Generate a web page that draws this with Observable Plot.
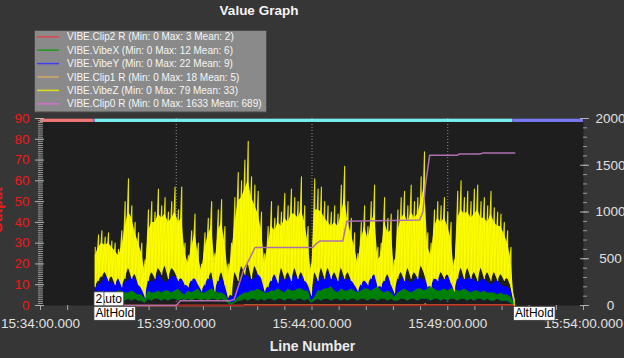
<!DOCTYPE html>
<html><head><meta charset="utf-8">
<script src="https://cdn.jsdelivr.net/npm/d3@7"></script>
<script src="https://cdn.jsdelivr.net/npm/@observablehq/plot@0.6"></script>
<style>
html,body{margin:0;padding:0;background:#363636;}
#chart{width:624px;height:358px;overflow:hidden;}
</style></head><body><div id="chart"></div>
<script>
// ---- legend / series info ----
const seriesNames = ["VIBE.Clip2 R","VIBE.VibeX","VIBE.VibeY","VIBE.Clip1 R","VIBE.VibeZ","VIBE.Clip0 R"];
const seriesMin = [0,0,0,0,0,0];
const seriesMax = [3,12,22,18,79,1633];
const seriesMean = [2,6,9,5,33,689];

// ---- vibration samples (regular log grid) ----
const vibeStart = "15:36:01";
const vibeStep = 7.35; // seconds
// VibeZ: spike tops, dense-core top, core bottom
const vibeZHi = [28,34,36,33,35,31,30,27,36,50, 61,48,40,35,30,22,46,50,45,56, 48,52,45,50,57,46,57,30,24,36,
 44,30,20,35,42,50,25,46,51,38, 20,30,52,64,60,70,79,62,58,55, 45,25,38,50,42,48,45,54,48,56,
 52,50,62,48,38,20,61,56,57,50, 48,45,48,44,58,67,50,42,35,25, 40,48,38,50,58,28,30,52,42,44,
 22,46,52,55,48,58,50,52,62,74, 35,30,46,50,48,52,45,40,22,55, 60,52,55,50,56,58,50,52,48,55,
 47,45,44,40,36,28,3];
const vibeZCore = [24,28,30,29,30,28,26,24,28,38, 45,42,35,30,25,16,36,40,40,44, 42,44,40,42,45,40,42,25,20,28,
 35,24,16,28,34,38,20,36,40,30, 15,24,40,50,52,56,60,52,48,44, 36,20,30,38,36,40,38,42,40,44,
 44,42,46,40,30,15,46,46,45,42, 40,38,40,38,44,52,40,34,28,20, 32,38,32,40,44,22,24,40,35,36,
 16,36,42,44,40,45,42,44,50,58, 28,24,38,42,40,42,38,32,16,42, 46,44,45,42,44,46,42,42,40,44,
 40,38,38,34,30,22,2];
const vibeZLo = [9,12,14,16,12,14,10,13,9,13, 18,13,15,10,8,4,12,16,13,18, 15,19,13,18,16,12,13,10,9,12,
 13,10,7,10,13,16,7,12,16,10, 4,5,16,12,19,15,20,13,19,15, 13,7,9,12,15,11,18,13,16,12,
 18,13,16,12,10,5,16,12,18,13, 18,13,16,12,18,13,16,12,10,7, 10,12,10,13,15,9,9,12,15,10,
 6,13,16,12,18,13,16,13,19,15, 9,9,13,12,16,13,15,11,7,13, 18,13,18,13,16,12,18,13,16,12,
 16,12,15,12,13,9,0];
const vibeYHi = [8,10,11,14,13,10,12,15,14,11, 12,14,13,10,11,7,13,11,12,15, 13,11,12,14,14,12,13,11,12,15,
 14,12,13,16,14,12,15,13,13,11, 8,3,6,10,12,15,14,12,13,16, 14,12,12,15,15,13,14,12,13,16,
 14,13,15,12,13,4,10,14,14,12, 15,17,13,12,14,13,12,14,13,11, 14,12,13,16,15,13,14,12,14,11,
 6,11,13,14,12,11,12,14,13,12, 14,13,15,18,13,12,14,15,15,13, 14,12,13,14,12,11,12,13,11,10,
 11,12,10,9,9,7,2];
const vibeXHi = [3,4,5,6,6,5,6,7,7,6, 6,7,6,5,5,3,7,6,6,7, 6,7,7,6,7,8,6,5,7,6,
 7,8,6,6,7,8,7,6,6,5, 3,1,2,4,5,6,6,7,7,8, 7,6,6,7,7,8,7,6,8,7,
 7,8,8,7,7,2,4,7,7,8, 8,9,7,6,8,7,7,8,7,6, 7,8,8,7,8,9,7,6,7,6,
 4,6,7,8,7,6,7,8,8,7, 8,9,8,7,7,8,7,8,8,7, 7,8,7,6,7,7,6,7,6,6,
 6,5,6,5,5,4,1];
const vibeXLo = [1,2,2,3,2,3,2,3,3,2, 3,2,3,2,2,1,3,2,3,3, 2,3,2,3,3,2,3,2,3,2,
 3,3,2,3,2,3,3,2,3,2, 1,0,1,2,2,3,2,3,3,2, 3,2,3,3,2,3,3,2,3,3,
 2,3,3,2,3,1,2,3,2,3, 3,2,3,3,2,3,2,3,3,2, 3,3,2,3,3,2,3,3,2,3,
 2,2,3,3,2,3,3,2,3,3, 3,2,3,3,2,3,2,3,3,2, 3,3,2,3,2,3,3,2,3,2,
 2,3,2,2,2,1,0];

// ---- clipping counters (right axis) ----
const clip0Times = ["15:36:01","15:39:00","15:39:09","15:40:59","15:41:08","15:41:17","15:41:28","15:41:43","15:41:54",
 "15:44:02","15:44:09","15:44:18","15:45:08","15:45:17","15:47:58","15:48:05","15:48:11","15:48:20",
 "15:49:20","15:49:26","15:50:11","15:50:17","15:51:28"];
const clip0Values = [0,0,50,50,65,200,370,510,620, 620,660,690,690,900,915,1000,1300,1606, 1606,1620,1620,1630,1630];
const clip1Times = ["15:36:01","15:41:30","15:41:31","15:48:09","15:48:10","15:48:12","15:51:28"];
const clip1Values = [0,0,5,5,18,5,5];
const clip2Times = ["15:36:01","15:48:00","15:48:01","15:51:28"];
const clip2Values = [0,0,3,3];

// ---- flight modes ----
const modeStart = ["15:34:00","15:35:57","15:36:01","15:51:24"];
const modeEnd = ["15:35:57","15:36:01","15:51:24","15:54:00"];
const modeName = ["Stabilize","AltHold","Auto","AltHold"];
const upperLabelText = ["Auto","2"];
const upperLabelTime = ["15:36:01","15:35:57"];
const lowerLabelText = ["AltHold","AltHold"];
const lowerLabelTime = ["15:35:57","15:51:24"];

// ---- axes ----
const xDomain = ["15:34:00","15:54:00"];
const xLabelTimes = ["15:34:00","15:39:00","15:44:00","15:49:00","15:54:00"];
const gridTimes = ["15:39:00","15:44:00","15:49:00"];
const leftTicks = [0,10,20,30,40,50,60,70,80,90];
const rightTicks = [0,500,1000,1500,2000];

// ---- build ----
const tm = s => { const [h,m,x] = s.split(":").map(Number); return new Date(Date.UTC(2020,0,1,h,m,x)); };
const R = 90 / 2000; // right-axis units -> left-axis units
const t0 = tm(vibeStart).getTime();
const vibe = vibeZHi.map((_, i) => ({t: new Date(t0 + i * vibeStep * 1000), zHi: vibeZHi[i], zCore: vibeZCore[i], zLo: vibeZLo[i], yHi: vibeYHi[i], xHi: vibeXHi[i], xLo: vibeXLo[i]}));
const zigZ = vibe.flatMap(d => [{t: d.t, v: d.zHi}, {t: d.t, v: d.zLo}]);
const toSeries = (ts, vs) => ts.map((t, i) => ({t: tm(t), v: vs[i]}));
const clip0 = toSeries(clip0Times, clip0Values);
const clip1 = toSeries(clip1Times, clip1Values);
const clip2 = toSeries(clip2Times, clip2Values);
const modeColor = {Stabilize: "#f07878", AltHold: "#7878f0", Auto: "#78f0f0"};
const modes = modeName.map((m, i) => ({t1: tm(modeStart[i]), t2: tm(modeEnd[i]), m}));
const upper = upperLabelText.map((s, i) => ({t: tm(upperLabelTime[i]), s}));
const lower = lowerLabelText.map((s, i) => ({t: tm(lowerLabelTime[i]), s}));
const minuteTicks = d3.utcMinute.range(tm(xDomain[0]), new Date(tm(xDomain[1]).getTime() + 1));
const colors = ["#e04848", "#1f9a1f", "#3c3cf0", "#d2a862", "#dede20", "#d070d0"];

const font = "'Liberation Sans', Arial, sans-serif";
const plot = Plot.plot({
  width: 624, height: 358,
  marginTop: 118, marginBottom: 53, marginLeft: 40, marginRight: 41,
  style: {background: "#363636", color: "#d8d8d8", fontFamily: font, fontSize: "13.5px", overflow: "visible"},
  x: {type: "utc", domain: xDomain.map(tm), axis: null},
  y: {domain: [0, 90], axis: null},
  marks: [
    Plot.frame({fill: "#1e1e1e", stroke: null}),
    Plot.ruleX(gridTimes.map(tm), {stroke: "#8c8c8c", strokeDasharray: "1,2"}),
    Plot.rect(modes, {x1: "t1", x2: "t2", y1: () => 88.1, y2: () => 89.7, fill: d => modeColor[d.m]}),
    // left axis
    Plot.axisY(d3.range(0, 91, 1), {anchor: "left", tickSize: 5, dx: 3, stroke: "#9a9a9a", tickFormat: () => ""}),
    Plot.axisY(leftTicks, {anchor: "left", tickSize: 9, dx: 4, stroke: "#b0b0b0", tickFormat: () => ""}),
    Plot.axisY(leftTicks, {anchor: "left", tickSize: 0, tickPadding: 11, fill: "#f01818", fontSize: 13.5}),
    // right axis
    Plot.axisY(d3.range(0, 2001, 100).map(v => v * R), {anchor: "right", tickSize: 4, dx: -1, stroke: "#9a9a9a", tickFormat: () => ""}),
    Plot.axisY(rightTicks.map(v => v * R), {anchor: "right", tickSize: 9, dx: -4, stroke: "#b0b0b0", tickFormat: () => ""}),
    Plot.axisY(rightTicks.map(v => v * R), {anchor: "right", tickSize: 0, tickPadding: 3, dx: 24, textAnchor: "middle", fill: "#e0e0e0", fontSize: 13.5, tickFormat: d => String(Math.round(d / R))}),
    // bottom axis
    Plot.axisX(minuteTicks, {tickSize: 5, stroke: "#a8a8a8", tickFormat: () => ""}),
    Plot.axisX(xLabelTimes.map(tm), {tickSize: 0, tickPadding: 13, fill: "#e2e2e2", fontSize: 13.5, tickFormat: d3.utcFormat("%H:%M:%S.%L")}),
    // series
    Plot.areaY(vibe, {x: "t", y1: "xLo", y2: "yHi", fill: "#0000ff"}),
    Plot.areaY(vibe, {x: "t", y1: "xLo", y2: "xHi", fill: "#008000"}),
    Plot.line(clip1, {x: "t", y: d => d.v * R, stroke: "#c8963c", strokeWidth: 1.5}),
    Plot.line(clip2, {x: "t", y: d => d.v * R, stroke: "#b02020", strokeWidth: 1.5}),
    Plot.line(zigZ, {x: "t", y: "v", stroke: "#e4e400", strokeWidth: 1.1}),
    Plot.areaY(vibe, {x: "t", y1: "zLo", y2: "zCore", fill: "#ffff00", fillOpacity: 0.92}),
    Plot.line(clip0, {x: "t", y: d => d.v * R, stroke: "#b070b0", strokeWidth: 1.5}),
    // mode labels
    Plot.text(upper, {x: "t", text: "s", frameAnchor: "bottom", dy: -6.5, dx: 2, textAnchor: "start", lineAnchor: "middle", fill: "black", fontSize: 12}),
    Plot.text(lower, {x: "t", text: "s", frameAnchor: "bottom", dy: 8, dx: 2, textAnchor: "start", lineAnchor: "middle", fill: "black", fontSize: 12})
  ]
});
document.getElementById("chart").appendChild(plot);

const svg = d3.select(plot);
// boxes behind mode labels
svg.selectAll('g[aria-label="text"] text').each(function () {
  const b = this.getBBox();
  const node = this;
  d3.select(this.parentNode).insert("rect", () => node)
    .attr("x", b.x - 1.5).attr("y", b.y).attr("width", b.width + 3).attr("height", b.height)
    .attr("transform", this.getAttribute("transform"))
    .attr("fill", "#ffffff").attr("stroke", "#3a3a3a").attr("stroke-width", 0.8);
});
// title
svg.append("text").attr("x", 259).attr("y", 14.5).attr("text-anchor", "middle")
  .attr("fill", "#f4f4f4").style("font", `bold 13.5px ${font}`).text("Value Graph");
// axis titles
svg.append("text").attr("x", 312.5).attr("y", 351).attr("text-anchor", "middle")
  .attr("fill", "#ececec").style("font", `bold 14px ${font}`).text("Line Number");
svg.append("text").attr("transform", "translate(2,210) rotate(-90)").attr("text-anchor", "middle")
  .attr("fill", "#f01818").style("font", `bold 14px ${font}`).text("Output");
// legend
const lg = svg.append("g");
lg.append("rect").attr("x", 34.5).attr("y", 30.5).attr("width", 232).attr("height", 81.5)
  .attr("fill", "#8a8a8a").attr("stroke", "#4a4a4a");
seriesNames.forEach((n, i) => {
  const cy = 36.8 + i * 13.4;
  lg.append("line").attr("x1", 37).attr("x2", 59).attr("y1", cy).attr("y2", cy)
    .attr("stroke", colors[i]).attr("stroke-width", 1.5);
  lg.append("text").attr("x", 67).attr("y", cy + 3.6).attr("fill", "#f6f6f6")
    .attr("text-anchor", "start")
    .style("font", `10px ${font}`)
    .text(`${n} (Min: ${seriesMin[i]} Max: ${seriesMax[i]} Mean: ${seriesMean[i]})`);
});
</script></body></html>
